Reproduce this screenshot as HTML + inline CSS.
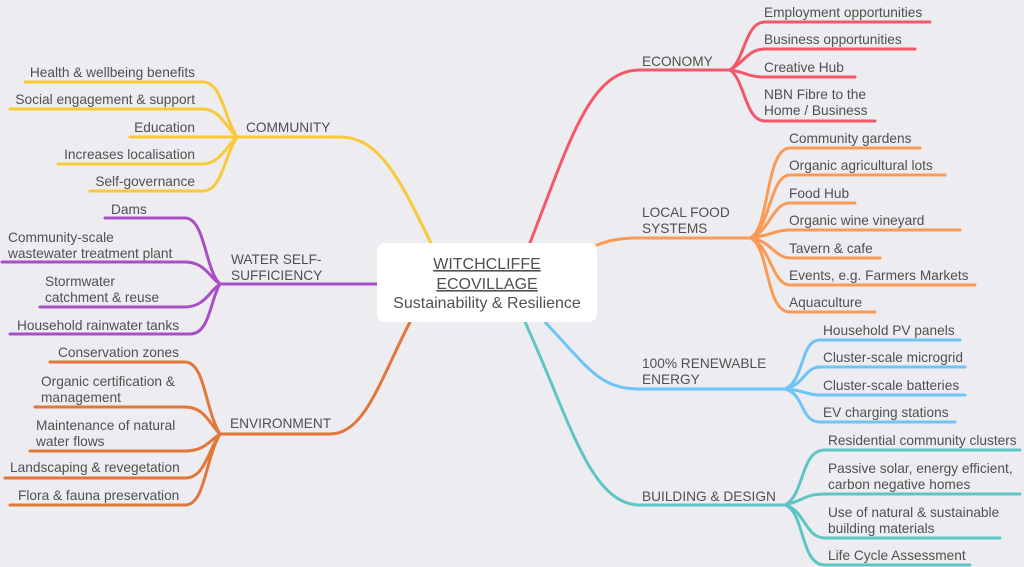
<!DOCTYPE html>
<html><head><meta charset="utf-8"><style>
html,body{margin:0;padding:0;background:#ededf1;}
svg{display:block}
text{font-family:"Liberation Sans",sans-serif;font-size:13.7px;fill:#505050}
</style></head><body>
<svg width="1024" height="567" viewBox="0 0 1024 567" xmlns="http://www.w3.org/2000/svg">
<g fill="none" stroke-width="3" stroke-linecap="round">
<g stroke="#f9c93a">
<path d="M432,245 C400,180 380,137 340,137 L237,137"/>
<path d="M25,82 L203,82 C222,82 225,120 237,137"/>
<path d="M10,109 L203,109 C220,109 228,130 237,137"/>
<path d="M130,137 L237,137"/>
<path d="M58,164 L203,164 C220,164 228,144 237,137"/>
<path d="M90,191 L203,191 C222,191 225,154 237,137"/>
</g>
<g stroke="#a94fc6">
<path d="M377,284 L220,284"/>
<path d="M105,218 L185,218 C205,218 205,270 220,284"/>
<path d="M2,262 L185,262 C205,262 210,278 220,284"/>
<path d="M40,307 L185,307 C205,307 210,290 220,284"/>
<path d="M10,334 L190,334 C210,334 210,300 220,284"/>
</g>
<g stroke="#e2773a">
<path d="M410,322 C380,380 365,434 330,434 L220,434"/>
<path d="M50,362 L185,362 C205,362 205,410 220,434"/>
<path d="M35,407 L185,407 C205,407 210,425 220,434"/>
<path d="M30,451 L185,451 C205,451 210,440 220,434"/>
<path d="M5,478 L185,478 C205,478 208,450 220,434"/>
<path d="M10,505 L185,505 C205,505 205,460 220,434"/>
</g>
<g stroke="#f2586a">
<path d="M530,243 C570,140 590,70 640,70 L730,70"/>
<path d="M730,70 C745,60 745,22 765,22 L930,22"/>
<path d="M730,70 C745,62 748,49 765,49 L915,49"/>
<path d="M730,70 C745,72 748,77 765,77 L855,77"/>
<path d="M730,70 C745,80 745,121 765,121 L875,121"/>
</g>
<g stroke="#fb9a55">
<path d="M597,245 C610,240 620,238 640,238 L750,238"/>
<path d="M750,238 C770,230 765,148 790,148 L920,148"/>
<path d="M750,238 C770,230 770,175 790,175 L945,175"/>
<path d="M750,238 C770,232 772,203 790,203 L855,203"/>
<path d="M750,238 C770,236 775,230 790,230 L960,230"/>
<path d="M750,238 C770,240 775,258 790,258 L880,258"/>
<path d="M750,238 C770,244 772,285 790,285 L975,285"/>
<path d="M750,238 C770,246 765,312 790,312 L875,312"/>
</g>
<g stroke="#6ec3f7">
<path d="M545,322 C590,370 600,389 640,389 L785,389"/>
<path d="M785,389 C805,380 800,340 820,340 L960,340"/>
<path d="M785,389 C805,384 805,367 820,367 L965,367"/>
<path d="M785,389 C805,390 805,395 820,395 L965,395"/>
<path d="M785,389 C805,394 800,422 820,422 L955,422"/>
</g>
<g stroke="#5ec5c5">
<path d="M525,322 C570,420 590,505 640,505 L785,505"/>
<path d="M785,505 C805,495 800,450 825,450 L1020,450"/>
<path d="M785,505 C805,500 805,494 825,494 L1020,494"/>
<path d="M785,505 C805,510 805,538 825,538 L1000,538"/>
<path d="M785,505 C805,512 800,565 825,565 L970,565"/>
</g>
</g>
<rect x="377" y="243" width="220" height="79" rx="8" fill="#fff"/>
<g text-anchor="middle">
<text x="487" y="269" style="font-size:16px" text-decoration="underline">WITCHCLIFFE</text>
<text x="487" y="289" style="font-size:16px" text-decoration="underline">ECOVILLAGE</text>
<text x="487" y="308" style="font-size:16px">Sustainability &amp; Resilience</text>
</g>
<g text-anchor="end">
<text x="195" y="77">Health &amp; wellbeing benefits</text>
<text x="195" y="104">Social engagement &amp; support</text>
<text x="195" y="132">Education</text>
<text x="195" y="159">Increases localisation</text>
<text x="195" y="186">Self-governance</text>
</g>
<text x="246" y="132">COMMUNITY</text>
<text x="111" y="214">Dams</text>
<text x="8" y="242">Community-scale</text>
<text x="8" y="258">wastewater treatment plant</text>
<text x="45" y="286">Stormwater</text>
<text x="45" y="302">catchment &amp; reuse</text>
<text x="17" y="330">Household rainwater tanks</text>
<text x="231" y="264">WATER SELF-</text>
<text x="231" y="280">SUFFICIENCY</text>
<text x="58" y="357">Conservation zones</text>
<text x="41" y="386">Organic certification &amp;</text>
<text x="41" y="402">management</text>
<text x="36" y="430">Maintenance of natural</text>
<text x="36" y="446">water flows</text>
<text x="10" y="472">Landscaping &amp; revegetation</text>
<text x="18" y="500">Flora &amp; fauna preservation</text>
<text x="230" y="428">ENVIRONMENT</text>
<text x="642" y="66">ECONOMY</text>
<text x="764" y="17">Employment opportunities</text>
<text x="764" y="44">Business opportunities</text>
<text x="764" y="72">Creative Hub</text>
<text x="764" y="99">NBN Fibre to the</text>
<text x="764" y="115">Home / Business</text>
<text x="642" y="217">LOCAL FOOD</text>
<text x="642" y="233">SYSTEMS</text>
<text x="789" y="143">Community gardens</text>
<text x="789" y="170">Organic agricultural lots</text>
<text x="789" y="198">Food Hub</text>
<text x="789" y="225">Organic wine vineyard</text>
<text x="789" y="253">Tavern &amp; cafe</text>
<text x="789" y="280">Events, e.g. Farmers Markets</text>
<text x="789" y="307">Aquaculture</text>
<text x="642" y="368">100% RENEWABLE</text>
<text x="642" y="384">ENERGY</text>
<text x="823" y="335">Household PV panels</text>
<text x="823" y="362">Cluster-scale microgrid</text>
<text x="823" y="390">Cluster-scale batteries</text>
<text x="823" y="417">EV charging stations</text>
<text x="642" y="501">BUILDING &amp; DESIGN</text>
<text x="828" y="445">Residential community clusters</text>
<text x="828" y="473">Passive solar, energy efficient,</text>
<text x="828" y="489">carbon negative homes</text>
<text x="828" y="517">Use of natural &amp; sustainable</text>
<text x="828" y="533">building materials</text>
<text x="828" y="560">Life Cycle Assessment</text>
</svg>
</body></html>
